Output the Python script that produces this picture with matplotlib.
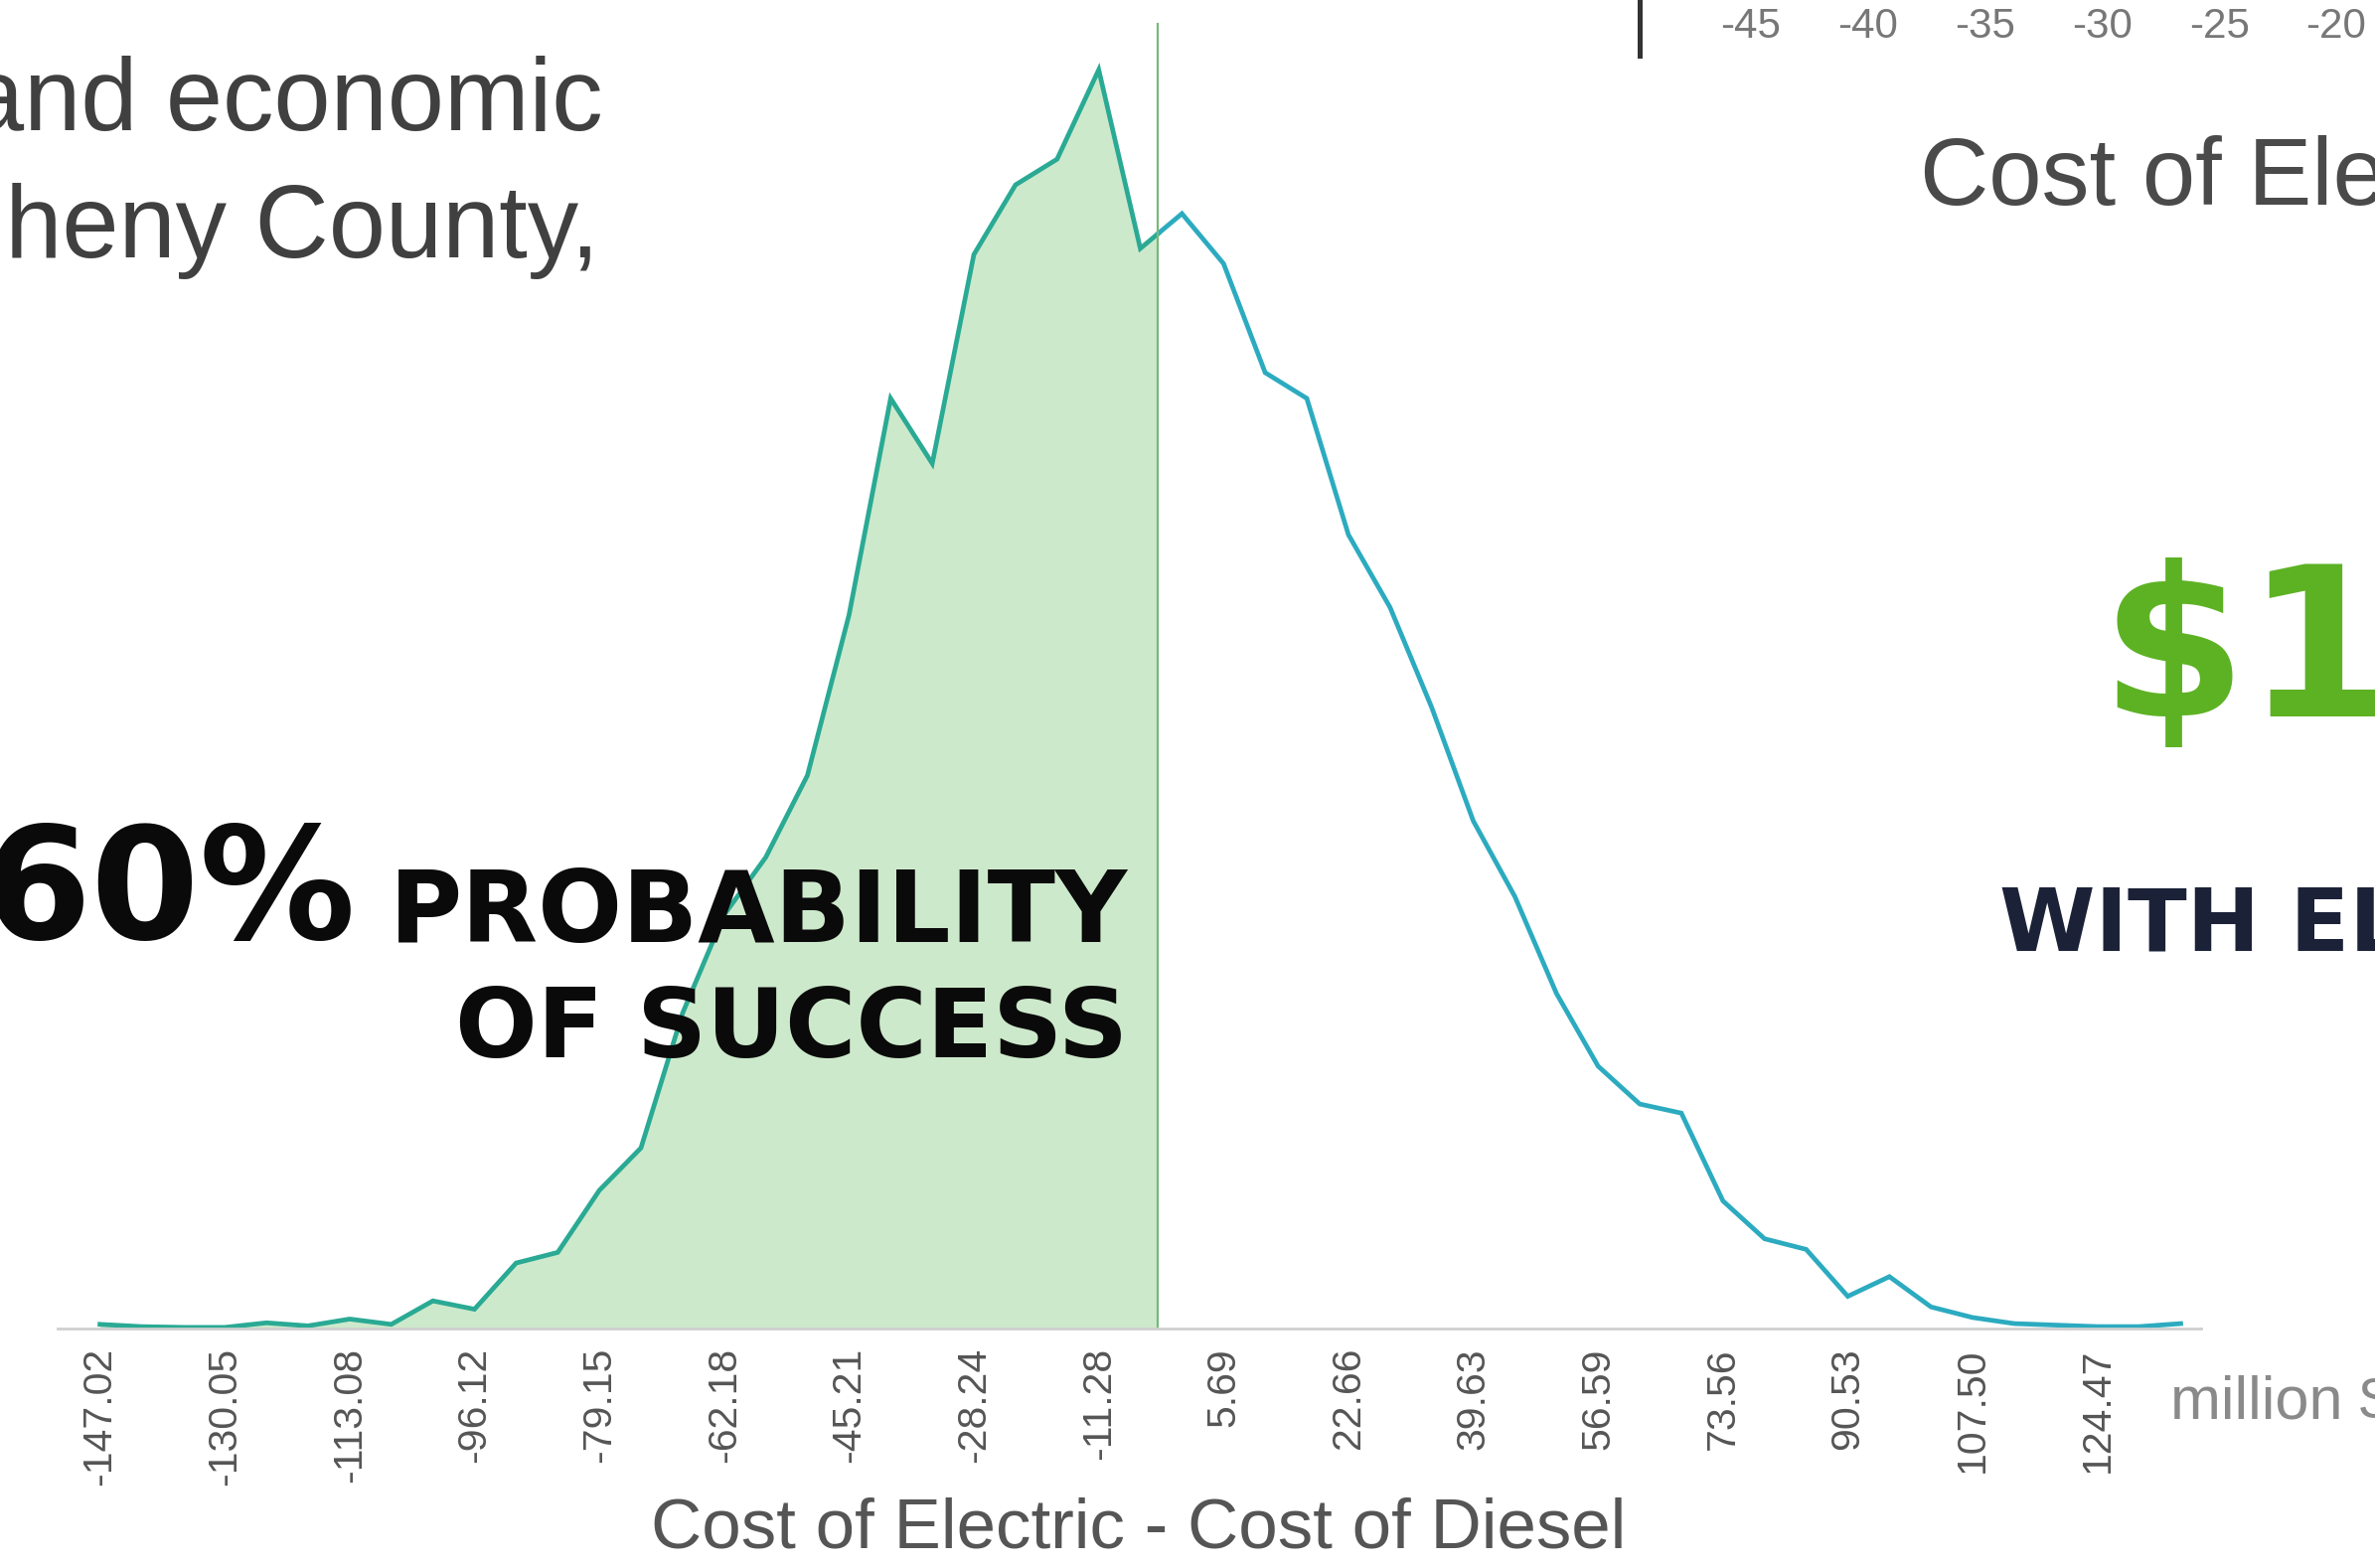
import numpy as np
import matplotlib
matplotlib.use('Agg')
import matplotlib.pyplot as plt
import matplotlib.font_manager as fm

# histogram of simulated cost difference (electric - diesel), million $
bin_start = -147.02
bin_width = 5.656
freq = [2.5, 1, 0.5, 0.5, 3.5, 1.5, 6, 2.5, 18, 12.5,
        43, 50, 91, 119, 208, 273, 311, 365, 471, 614,
        571, 709, 755, 772, 831, 713, 736, 703, 631, 614,
        524, 476, 410, 335, 285, 221, 173, 148, 142, 84,
        59, 52, 21, 34, 14, 7, 3, 2, 1, 1, 3]
tick_labels = ['-147.02', '-130.05', '-113.08', '-96.12', '-79.15', '-62.18',
               '-45.21', '-28.24', '-11.28', '5.69', '22.66', '39.63', '56.59',
               '73.56', '90.53', '107.50', '124.47']
threshold = -3.2

# the neighbouring chart's axis (top right)
top_ticks = [-45, -40, -35, -30, -25, -20]

W, H = 2390, 1578

have = {f.name for f in fm.fontManager.ttflist}
def pick(*names):
    for n in names:
        if n in have:
            return n
    return 'DejaVu Sans'

narrow = pick('Liberation Sans Narrow', 'Liberation Sans')
sans = pick('Liberation Sans', 'DejaVu Sans')
bold = 'DejaVu Sans'
nscale = 1.0 if narrow == 'Liberation Sans Narrow' else 0.82

def px(x, y):
    return x / W, 1 - y / H

fig = plt.figure(figsize=(W / 100, H / 100), dpi=100)

# main distribution chart
ax = fig.add_axes([58 / W, 1 - 1336.6 / H, (2215 - 58) / W, (1336.6 - 23) / H])
x = bin_start + bin_width * np.arange(len(freq))
y = np.array(freq, dtype=float)
y_thr = np.interp(threshold, x, y)

left = x <= threshold
xl = np.append(x[left], threshold)
yl = np.append(y[left], y_thr)
xr = np.insert(x[~left], 0, threshold)
yr = np.insert(y[~left], 0, y_thr)

ax.fill_between(xl, 0, yl, color='#cde9cb', lw=0)
ax.plot(xl, yl, color='#2aaa94', lw=3.4, solid_joinstyle='miter')
ax.plot(xr, yr, color='#2cabc0', lw=3.4, solid_joinstyle='miter')
ax.axvline(threshold, color='#78b878', lw=1.6)

x0 = bin_start - 1.017 * bin_width
x1 = bin_start + 50.49 * bin_width
ax.set_xlim(x0, x1)
ax.set_ylim(0, 862)
ax.set_xticks(x[::3])
ax.set_xticklabels(tick_labels, rotation=90, fontsize=36 * nscale,
                   family=narrow, color='#555555')
ax.tick_params(axis='x', length=0, pad=14)
ax.set_yticks([])
for s in ['top', 'right', 'left']:
    ax.spines[s].set_visible(False)
ax.spines['bottom'].set_color('#cfcfcf')
ax.spines['bottom'].set_linewidth(2)
ax.patch.set_alpha(0)

# axis of the neighbouring chart, top right
ax2 = fig.add_axes([1650 / W, 1 - 56 / H, (W - 1650) / W, 56 / H])
ax2.set_xlim(-49.75, -18.34)
ax2.set_ylim(0, 1)
ax2.set_xticks(top_ticks)
ax2.set_xticklabels([str(t) for t in top_ticks], fontsize=37 * nscale,
                    family=narrow, color='#777777')
ax2.tick_params(axis='x', length=0, pad=-35)
ax2.set_yticks([])
for s in ['top', 'right', 'bottom']:
    ax2.spines[s].set_visible(False)
ax2.spines['left'].set_color('#333333')
ax2.spines['left'].set_linewidth(3.6)
ax2.patch.set_alpha(0)

# texts
fig.text(*px(1146, 1557), 'Cost of Electric - Cost of Diesel', ha='center',
         va='baseline', fontsize=51, family=sans, color='#555555')
fig.text(*px(2184, 1413), 'million $', ha='left', va='center',
         fontsize=44, family=sans, color='#8a8a8a')

fig.text(*px(607, 131), 'and economic', ha='right', va='baseline',
         fontsize=74, family=sans, color='#404040')
fig.text(*px(603, 259), 'Allegheny County,', ha='right', va='baseline',
         fontsize=74, family=sans, color='#404040')

fig.text(*px(358, 945), '60%', ha='right', va='baseline', fontsize=113,
         family=bold, weight='bold', color='#0a0a0a')
fig.text(*px(1135, 948), 'PROBABILITY', ha='right', va='baseline', fontsize=72,
         family=bold, weight='bold', color='#0a0a0a')
fig.text(*px(1135, 1064), 'OF SUCCESS', ha='right', va='baseline', fontsize=70,
         family=bold, weight='bold', color='#0a0a0a')

fig.text(*px(1932, 206), 'Cost of Electric', ha='left', va='baseline',
         fontsize=69, family=sans, color='#4a4a4a')
fig.text(*px(2114, 721), '$1', ha='left', va='baseline', fontsize=152,
         family=bold, weight='bold', color='#5db224')
fig.text(*px(2012, 957), 'WITH ELECTRIC', ha='left', va='baseline', fontsize=63,
         family=bold, weight='bold', color='#1b2238')

fig.savefig('out.png', dpi=100)
